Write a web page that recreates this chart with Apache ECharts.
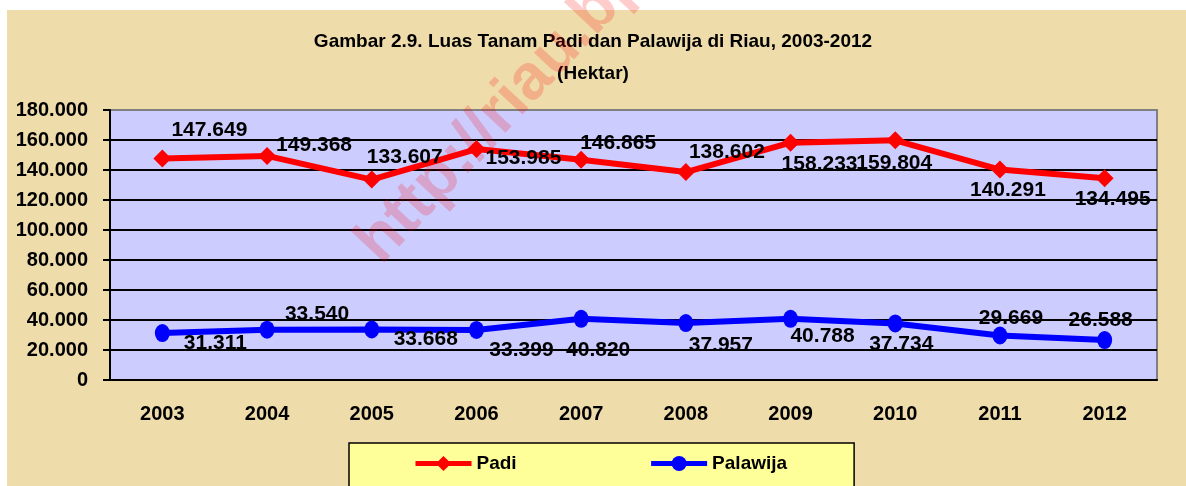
<!DOCTYPE html>
<html>
<head>
<meta charset="utf-8">
<script src="https://cdn.jsdelivr.net/npm/echarts@6/dist/echarts.min.js"></script>
<style>
  html, body { margin: 0; padding: 0; background: #ffffff; }
  #chart { width: 1186px; height: 486px; }
</style>
</head>
<body>
<div id="chart"></div>
<script>
// data
const years = ["2003", "2004", "2005", "2006", "2007", "2008", "2009", "2010", "2011", "2012"];
const padi = [147649, 149368, 133607, 153985, 146865, 138602, 158233, 159804, 140291, 134495];
const palawija = [31311, 33540, 33668, 33399, 40820, 37957, 40788, 37734, 29669, 26588];

// label offsets (style only)
const padiLabelOffsets = [[47, -28], [47, -11], [33, -22], [47, 9], [37, -16], [41, -20], [29, 22], [-1, 23], [8, 21], [8, 21]];
const palawijaLabelOffsets = [[53, 10], [50, -15], [54, 10], [45, 20], [17, 31], [35, 22], [32, 17], [6, 21], [11, -17], [-4, -20]];

const arial = '"Liberation Sans", Arial, sans-serif';

// 180000 -> "180.000"
const fmt = (v) => String(v).replace(/\B(?=(\d{3})+(?!\d))/g, ".");

const withLabels = (values, offsets) =>
  values.map((v, i) => ({ value: v, label: { offset: offsets[i] } }));

const chart = echarts.init(document.getElementById("chart"));
chart.setOption({
  backgroundColor: "transparent",
  animation: false,
  graphic: [
    {
      type: "rect",
      z: -100,
      shape: { x: 7, y: 10, width: 1179, height: 476 },
      style: { fill: "#efdcab" },
    },
    {
      type: "text",
      z: 100,
      x: 345,
      y: 232,
      rotation: (47 * Math.PI) / 180,
      style: {
        text: "http://riau.bps.go.id",
        font: "bold 64px " + arial,
        fill: "rgba(255, 0, 0, 0.2)",
      },
    },
  ],
  title: {
    text: "Gambar 2.9. Luas Tanam Padi dan Palawija di Riau, 2003-2012\n(Hektar)",
    left: "center",
    top: 21,
    textStyle: {
      fontFamily: arial,
      fontWeight: "bold",
      fontSize: 19,
      lineHeight: 32,
      color: "#000",
      align: "center",
    },
  },
  legend: {
    left: 349,
    top: 443,
    backgroundColor: "#ffff99",
    borderColor: "#000",
    borderWidth: 1.5,
    borderRadius: 0,
    padding: [11, 67, 30, 64],
    itemWidth: 56,
    itemHeight: 19,
    itemGap: 132,
    lineStyle: { width: 5 },
    textStyle: { fontFamily: arial, fontWeight: "bold", fontSize: 19, color: "#000" },
    data: ["Padi", "Palawija"],
  },
  grid: {
    left: 110,
    right: 29,
    top: 110,
    bottom: 106,
    show: true,
    backgroundColor: "#ccccff",
    borderColor: "#808080",
    borderWidth: 2,
  },
  xAxis: {
    type: "category",
    data: years,
    boundaryGap: true,
    axisLine: { lineStyle: { color: "#000", width: 2 } },
    axisTick: { length: 7, lineStyle: { color: "#000", width: 2 } },
    axisLabel: {
      margin: 24,
      fontFamily: arial,
      fontWeight: "bold",
      fontSize: 20,
      color: "#000",
    },
  },
  yAxis: {
    type: "value",
    min: 0,
    max: 180000,
    interval: 20000,
    axisLine: { show: true, lineStyle: { color: "#000", width: 2 } },
    axisTick: { show: true, length: 7, lineStyle: { color: "#000", width: 2 } },
    axisLabel: {
      margin: 22,
      formatter: fmt,
      fontFamily: arial,
      fontWeight: "bold",
      fontSize: 20,
      color: "#000",
    },
    splitLine: {
      lineStyle: {
        color: ["#000", "#000", "#000", "#000", "#000", "#000", "#000", "#000", "#000", "#808080"],
        width: 2,
      },
    },
  },
  series: [
    {
      name: "Padi",
      type: "line",
      data: withLabels(padi, padiLabelOffsets),
      symbol: "diamond",
      symbolSize: 18,
      itemStyle: { color: "#ff0000" },
      lineStyle: { color: "#ff0000", width: 6 },
      label: {
        show: true,
        position: "inside",
        formatter: (p) => fmt(p.value),
        fontFamily: arial,
        fontWeight: "bold",
        fontSize: 21,
        color: "#000",
      },
      z: 3,
    },
    {
      name: "Palawija",
      type: "line",
      data: withLabels(palawija, palawijaLabelOffsets),
      symbol: "circle",
      symbolSize: [15, 18],
      itemStyle: { color: "#0000ff" },
      lineStyle: { color: "#0000ff", width: 6 },
      label: {
        show: true,
        position: "inside",
        formatter: (p) => fmt(p.value),
        fontFamily: arial,
        fontWeight: "bold",
        fontSize: 21,
        color: "#000",
      },
      z: 3,
    },
  ],
});
</script>
</body>
</html>
